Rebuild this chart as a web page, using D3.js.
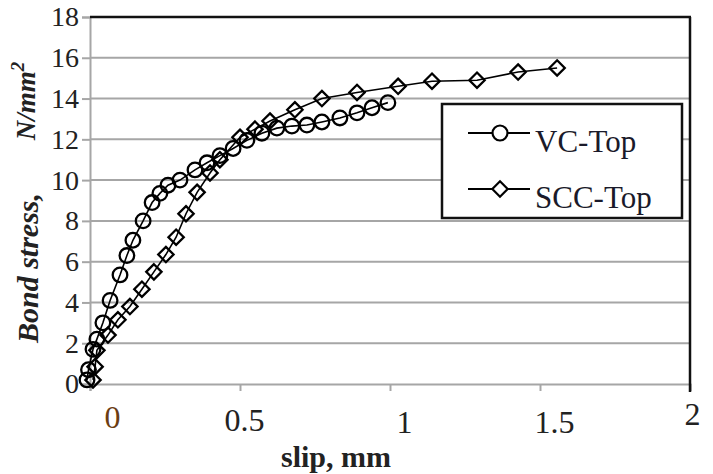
<!DOCTYPE html>
<html><head><meta charset="utf-8">
<script src="https://cdn.jsdelivr.net/npm/d3@7"></script>
<style>body{margin:0;background:#fff}svg{display:block}</style>
</head><body>
<script>
// Data (slip mm, bond stress N/mm²)
const vcSlip   = [-0.01,-0.005,0.01,0.023,0.043,0.067,0.10,0.123,0.143,0.177,0.207,0.233,0.26,0.30,0.35,0.39,0.433,0.477,0.523,0.573,0.623,0.673,0.723,0.773,0.833,0.89,0.94,0.993];
const vcStress = [0.2,0.7,1.7,2.2,3.0,4.1,5.35,6.3,7.05,8.0,8.9,9.35,9.75,10.0,10.5,10.85,11.2,11.55,11.95,12.3,12.55,12.65,12.7,12.85,13.05,13.3,13.55,13.8];
const sccSlip   = [0.01,0.017,0.023,0.06,0.093,0.133,0.173,0.213,0.253,0.287,0.32,0.357,0.40,0.433,0.50,0.55,0.60,0.683,0.773,0.89,1.027,1.14,1.29,1.427,1.557];
const sccStress = [0.2,0.85,1.65,2.4,3.15,3.8,4.65,5.5,6.35,7.2,8.35,9.4,10.35,11.0,12.1,12.5,12.9,13.45,14.0,14.3,14.6,14.85,14.9,15.3,15.5];
const xTicks = [0,0.5,1,1.5,2];
const xTickLabels = ["0","0.5","1","1.5","2"];
const yTicks = [0,2,4,6,8,10,12,14,16,18];
const seriesNames = ["VC-Top","SCC-Top"];

const W=713,H=474;
const svg=d3.select("body").append("svg").attr("width",W).attr("height",H);
const x=d3.scaleLinear().domain([0,2]).range([90,690]);
const y=d3.scaleLinear().domain([0,18]).range([384,17]);
const font="'Liberation Serif','Times New Roman',serif";

// gridlines
svg.append("g").selectAll("line").data(yTicks.filter(v=>v>0&&v<18)).join("line")
  .attr("x1",x(0)).attr("x2",x(2)).attr("y1",d=>y(d)).attr("y2",d=>y(d))
  .attr("stroke","#a6a6a6").attr("stroke-width",2);

// y axis
const ya=svg.append("g").attr("transform",`translate(${x(0)},0)`)
  .call(d3.axisLeft(y).tickValues(yTicks).tickSize(8).tickPadding(3));
ya.select(".domain").attr("stroke","#a6a6a6").attr("stroke-width",2);
ya.selectAll(".tick line").attr("stroke","#a6a6a6").attr("stroke-width",2);
ya.selectAll(".tick text").attr("font-family",font).attr("font-size",28).attr("fill","#222");

// x axis
const xa=svg.append("g").attr("transform",`translate(0,${y(0)})`)
  .call(d3.axisBottom(x).tickValues(xTicks).tickSize(7).tickFormat((d,i)=>xTickLabels[i]).tickPadding(16));
xa.select(".domain").attr("stroke","#a6a6a6").attr("stroke-width",2);
xa.selectAll(".tick line").attr("stroke","#a6a6a6").attr("stroke-width",2);
const xdx=[22,4,14,14,2], xdy=[-2,1,3,3,-5];
xa.selectAll(".tick text").attr("font-family",font).attr("font-size",32).attr("fill","#222")
  .attr("dx",(d,i)=>xdx[i]).attr("dy",(d,i)=>(0.71*32+xdy[i])+"px");
xa.selectAll(".tick").filter(d=>d===0).select("text").attr("fill","#6b3d12");

// top and right frame
svg.append("line").attr("x1",x(0)).attr("x2",x(2)+1).attr("y1",y(18)).attr("y2",y(18)).attr("stroke","#111").attr("stroke-width",2.5);
svg.append("line").attr("x1",x(2)).attr("x2",x(2)).attr("y1",y(18)).attr("y2",y(0)+8).attr("stroke","#111").attr("stroke-width",2.5);

// series
const line=d3.line().x(d=>x(d[0])).y(d=>y(d[1]));
const vc=vcSlip.map((s,i)=>[s,vcStress[i]]);
const scc=sccSlip.map((s,i)=>[s,sccStress[i]]);
svg.append("path").datum(scc).attr("d",line).attr("fill","none").attr("stroke","#000").attr("stroke-width",1.6);
svg.append("path").datum(vc).attr("d",line).attr("fill","none").attr("stroke","#000").attr("stroke-width",1.6);
const diamond=d3.symbol().type(d3.symbolDiamond2).size(150);
svg.append("g").selectAll("path").data(scc).join("path")
  .attr("d",diamond).attr("transform",d=>`translate(${x(d[0])},${y(d[1])})`)
  .attr("fill","none").attr("stroke","#000").attr("stroke-width",2.3);
svg.append("g").selectAll("circle").data(vc).join("circle")
  .attr("cx",d=>x(d[0])).attr("cy",d=>y(d[1])).attr("r",7.3)
  .attr("fill","none").attr("stroke","#000").attr("stroke-width",2.3);

// legend
const lg=svg.append("g");
lg.append("rect").attr("x",442).attr("y",104).attr("width",240).attr("height",114)
  .attr("fill","#fff").attr("stroke","#111").attr("stroke-width",2.5);
const ly=[133,189];
seriesNames.forEach((n,i)=>{
  lg.append("line").attr("x1",468).attr("x2",530).attr("y1",ly[i]).attr("y2",ly[i]).attr("stroke","#000").attr("stroke-width",2);
  if(i===0) lg.append("circle").attr("cx",500).attr("cy",ly[i]).attr("r",7.5).attr("fill","#fff").attr("stroke","#000").attr("stroke-width",2.2);
  else lg.append("path").attr("d",diamond).attr("transform",`translate(500,${ly[i]})`).attr("fill","#fff").attr("stroke","#000").attr("stroke-width",2.2);
  lg.append("text").attr("x",535).attr("y",ly[i]+19).text(n)
    .attr("font-family",font).attr("font-size",31).attr("fill","#1a1a2a");
});

// axis titles
svg.append("text").attr("transform","translate(38,268) rotate(-90)").attr("text-anchor","middle")
  .attr("font-family",font).attr("font-size",30).attr("font-weight","bold").attr("font-style","italic")
  .attr("fill","#222").text("Bond stress,");
const nt=svg.append("text").attr("transform","translate(35,101) rotate(-90)").attr("text-anchor","middle")
  .attr("font-family",font).attr("font-size",27).attr("font-style","italic").attr("font-weight","bold").attr("fill","#222");
nt.append("tspan").text("N/mm");
nt.append("tspan").attr("dy",-11).attr("font-size",19).text("2");
svg.append("text").attr("x",336).attr("y",467).attr("text-anchor","middle")
  .attr("font-family",font).attr("font-size",30).attr("font-weight","bold").attr("fill","#222").text("slip, mm");
</script>
</body></html>
